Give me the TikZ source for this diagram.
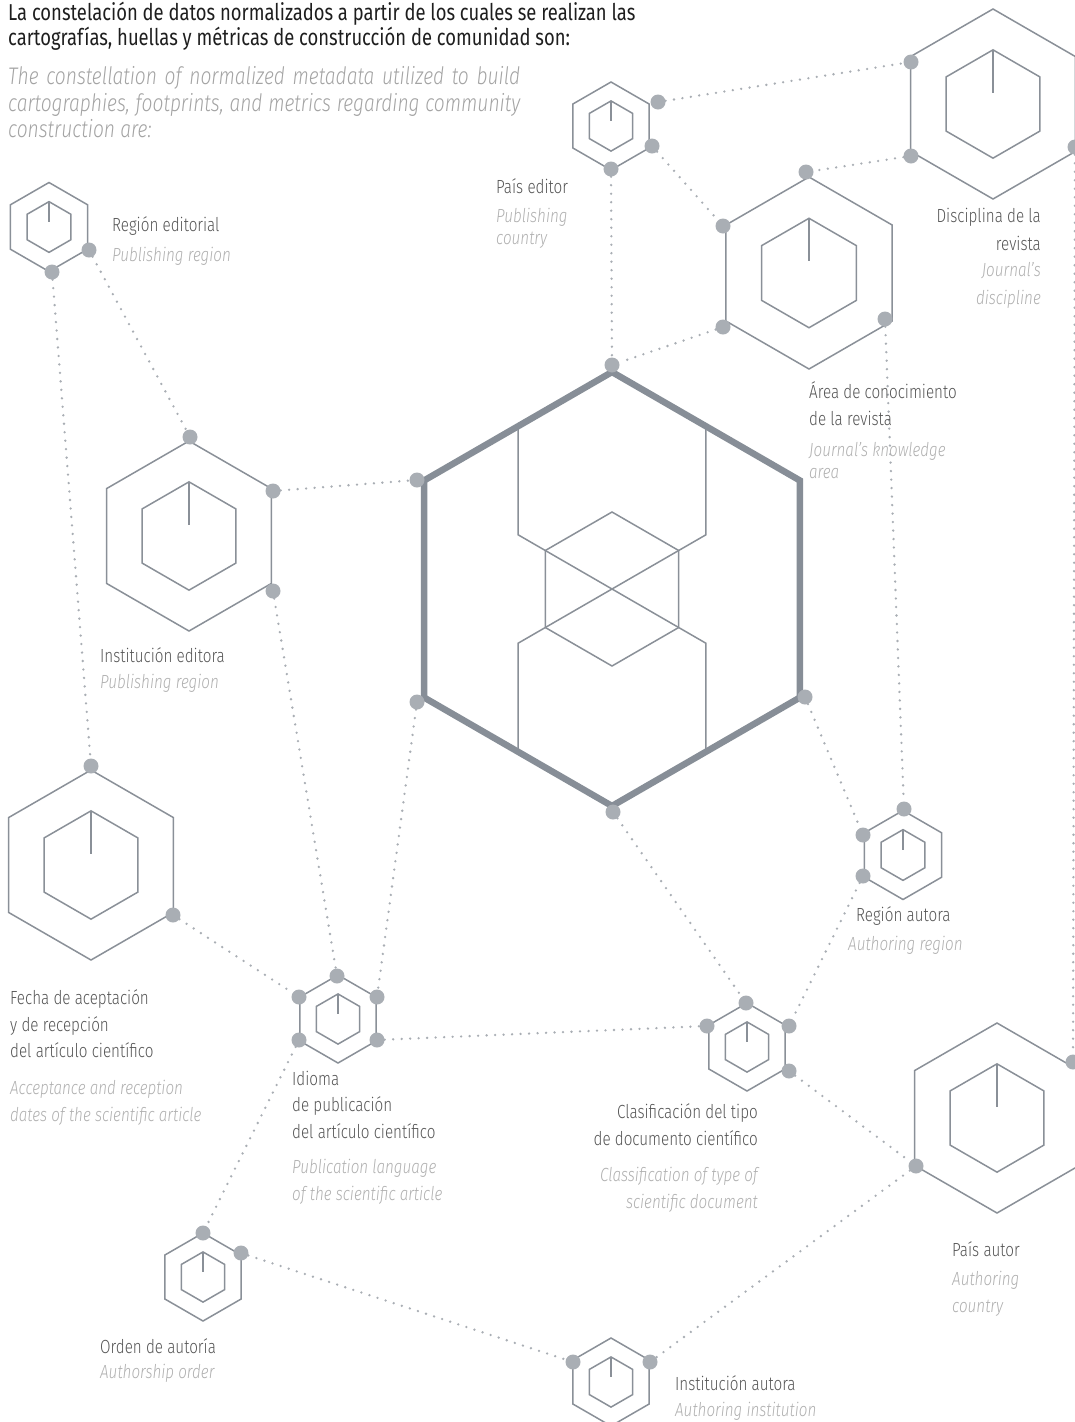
\documentclass[tikz,border=0pt]{standalone}
\usepackage{fontspec}
\setmainfont{Fira Sans}[FakeStretch=0.8, UprightFont=* Light, ItalicFont=* Light Italic]
\newfontfamily\titfont{Fira Sans}[FakeStretch=0.8]
\usetikzlibrary{calc}
\definecolor{hexc}{HTML}{8A9098}
\definecolor{bigc}{HTML}{878E97}
\definecolor{dotc}{HTML}{A9AEB4}
\definecolor{lblc}{HTML}{555555}
\definecolor{itc}{HTML}{B0B0B0}
\definecolor{subc}{HTML}{A4A4A4}
\definecolor{titc}{HTML}{1E1E1E}
\tikzset{
  hexline/.style={draw=hexc, line width=1.5pt, line join=miter},
  bigline/.style={draw=bigc, line width=6.5pt, line join=miter},
  dotn/.style={circle, fill=dotc, inner sep=0pt, minimum size=15pt},
  conn/.style={draw=dotc, line width=2.6pt, line cap=round, dash pattern=on 0pt off 8.5pt},
  lab/.style={font=\fontsize{19}{23}\selectfont, text=lblc, inner sep=0pt, anchor=base west},
  labr/.style={lab, anchor=base east},
  itl/.style={font=\fontsize{19}{23}\selectfont\itshape, text=itc, inner sep=0pt, anchor=base west},
  itlr/.style={itl, anchor=base east},
  titl/.style={font=\titfont\fontsize{23}{26}\selectfont, text=titc, inner sep=0pt, anchor=base west},
  subt/.style={font=\fontsize{24}{26}\selectfont\itshape, text=subc, inner sep=0pt, anchor=base west},
}
% hexagon with inner hexagon and tick: name, x, y, R
\newcommand\hexa[4]{%
  \coordinate (#1) at (#2,#3);
  \draw[hexline] ($(#1)+(30:#4)$) -- ($(#1)+(90:#4)$) -- ($(#1)+(150:#4)$) -- ($(#1)+(210:#4)$) -- ($(#1)+(270:#4)$) -- ($(#1)+(330:#4)$) -- cycle;
  \draw[hexline] ($(#1)+(30:0.57*#4)$) -- ($(#1)+(90:0.57*#4)$) -- ($(#1)+(150:0.57*#4)$) -- ($(#1)+(210:0.57*#4)$) -- ($(#1)+(270:0.57*#4)$) -- ($(#1)+(330:0.57*#4)$) -- cycle;
  \draw[hexline] ($(#1)+(0,-0.57*#4)$) -- ($(#1)+(0,-0.12*#4)$);
}
% plain hexagon: centre coordinate, R, style
\newcommand\phex[3]{%
  \draw[#3] ($(#1)+(30:#2)$) -- ($(#1)+(90:#2)$) -- ($(#1)+(150:#2)$) -- ($(#1)+(210:#2)$) -- ($(#1)+(270:#2)$) -- ($(#1)+(330:#2)$) -- cycle;
}
\begin{document}
\begin{tikzpicture}[x=1pt,y=-1pt]
\useasboundingbox (0,0) rectangle (1075,1422);
\fill[white] (0,0) rectangle (1075,1422);

% ---------- hexagons ----------
\hexa{A}{611}{126}{44}
\hexa{B}{993}{104}{95}
\hexa{C}{809}{273}{96}
\hexa{D}{49}{227}{44.5}
\hexa{E}{189}{536}{95}
\hexa{F}{91}{865}{95}
\hexa{G}{338}{1019}{44}
\hexa{H}{903}{855}{44.5}
\hexa{I}{747}{1047}{44}
\hexa{J}{997}{1118}{95}
\hexa{K}{203}{1277}{44}
\hexa{L}{611}{1382}{44}

% ---------- central hexagon ----------
\coordinate (M) at (612,589);
\coordinate (Mu) at (612,480.5);
\coordinate (Md) at (612,697.5);
\phex{Mu}{108.5}{hexline}
\phex{Md}{108.5}{hexline}
\phex{M}{77}{hexline}
\phex{M}{217}{bigline}

% ---------- connectors ----------
\node[dotn] (a1) at (658,102) {};
\node[dotn] (a2) at (652,146) {};
\node[dotn] (a3) at (611,169) {};
\node[dotn] (b1) at (911,62) {};
\node[dotn] (b2) at (911,156) {};
\node[dotn] (b3) at (1075,147) {};
\node[dotn] (c1) at (806,172) {};
\node[dotn] (c2) at (723,226) {};
\node[dotn] (c3) at (723,327) {};
\node[dotn] (c4) at (885,319) {};
\node[dotn] (d1) at (89,250) {};
\node[dotn] (d2) at (52,272) {};
\node[dotn] (e1) at (190,437) {};
\node[dotn] (e2) at (273,491) {};
\node[dotn] (e3) at (273,591) {};
\node[dotn] (f1) at (91,766) {};
\node[dotn] (f2) at (173,915) {};
\node[dotn] (g1) at (337,976) {};
\node[dotn] (g2) at (299,997) {};
\node[dotn] (g3) at (377,997) {};
\node[dotn] (g4) at (299,1040) {};
\node[dotn] (g5) at (377,1040) {};
\node[dotn] (h1) at (904,809) {};
\node[dotn] (h2) at (863,835) {};
\node[dotn] (h3) at (863,876) {};
\node[dotn] (i1) at (746,1003) {};
\node[dotn] (i2) at (707,1026) {};
\node[dotn] (i3) at (789,1026) {};
\node[dotn] (i4) at (789,1071) {};
\node[dotn] (j1) at (1073,1062) {};
\node[dotn] (j2) at (916,1166) {};
\node[dotn] (k1) at (203,1233) {};
\node[dotn] (k2) at (241,1253) {};
\node[dotn] (l1) at (573,1362) {};
\node[dotn] (l2) at (650,1362) {};
\node[dotn] (m1) at (612,365) {};
\node[dotn] (m2) at (417,480) {};
\node[dotn] (m3) at (417,702) {};
\node[dotn] (m4) at (805,697) {};
\node[dotn] (m5) at (613,812) {};

\draw[conn] (a1) -- (b1);
\draw[conn] (a2) -- (c2);
\draw[conn] (a3) -- (m1);
\draw[conn] (b2) -- (c1);
\draw[conn] (c3) -- (m1);
\draw[conn] (c4) -- (h1);
\draw[conn] (b3) -- (j1);
\draw[conn] (d1) -- (e1);
\draw[conn] (d2) -- (f1);
\draw[conn] (e2) -- (m2);
\draw[conn] (e3) -- (g1);
\draw[conn] (m3) -- (g3);
\draw[conn] (f2) -- (g2);
\draw[conn] (g4) -- (k1);
\draw[conn] (g5) -- (i2);
\draw[conn] (m4) -- (h2);
\draw[conn] (m5) -- (i1);
\draw[conn] (h3) -- (i3);
\draw[conn] (i4) -- (j2);
\draw[conn] (j2) -- (l2);
\draw[conn] (k2) -- (l1);

% ---------- title ----------
\node[titl] (t1) at (8,20) {La constelación de datos normalizados a partir de los cuales se realizan las};
\node[titl] (t2) at (8,45) {cartografías, huellas y métricas de construcción de comunidad son:};
\node[subt] (s1) at (8,84) {\makebox[512pt][s]{The constellation of normalized metadata utilized to build}};
\node[subt] (s2) at (8,111) {\makebox[512pt][s]{cartographies, footprints, and metrics regarding community}};
\node[subt] (s3) at (8,137) {construction are:};

% ---------- labels ----------
\node[lab] (pe1) at (496,193) {País editor};
\node[itl] (pe2) at (496,222) {Publishing};
\node[itl] (pe3) at (496,244) {country};

\node[lab] (re1) at (112,231) {Región editorial};
\node[itl] (re2) at (112,261) {Publishing region};

\node[labr] (dr1) at (1041,222) {Disciplina de la};
\node[labr] (dr2) at (1041,250) {revista};
\node[itlr] (dr3) at (1041,276) {Journal's};
\node[itlr] (dr4) at (1041,304) {discipline};

\node[lab] (ac1) at (809,398) {Área de conocimiento};
\node[lab] (ac2) at (809,425) {de la revista};
\node[itl] (ac3) at (809,456) {Journal's knowledge};
\node[itl] (ac4) at (809,478) {area};

\node[lab] (ie1) at (100,662) {Institución editora};
\node[itl] (ie2) at (100,688) {Publishing region};

\node[lab] (fa1) at (10,1004) {Fecha de aceptación};
\node[lab] (fa2) at (10,1031) {y de recepción};
\node[lab] (fa3) at (10,1057) {del artículo científico};
\node[itl] (fa4) at (10,1094) {Acceptance and reception};
\node[itl] (fa5) at (10,1121) {dates of the scientific article};

\node[lab] (id1) at (292,1085) {Idioma};
\node[lab] (id2) at (292,1111) {de publicación};
\node[lab] (id3) at (292,1138) {del artículo científico};
\node[itl] (id4) at (292,1173) {Publication language};
\node[itl] (id5) at (292,1200) {of the scientific article};

\node[lab] (ra1) at (856,921) {Región autora};
\node[itl] (ra2) at (848,950) {Authoring region};

\node[labr] (cl1) at (758,1118) {Clasificación del tipo};
\node[labr] (cl2) at (758,1145) {de documento científico};
\node[itlr] (cl3) at (758,1181) {Classification of type of};
\node[itlr] (cl4) at (758,1208) {scientific document};

\node[lab] (pa1) at (952,1256) {País autor};
\node[itl] (pa2) at (952,1285) {Authoring};
\node[itl] (pa3) at (952,1312) {country};

\node[lab] (oa1) at (100,1353) {Orden de autoría};
\node[itl] (oa2) at (100,1378) {Authorship order};

\node[lab] (ia1) at (675,1390) {Institución autora};
\node[itl] (ia2) at (675,1416) {Authoring institution};
\end{tikzpicture}
\end{document}
